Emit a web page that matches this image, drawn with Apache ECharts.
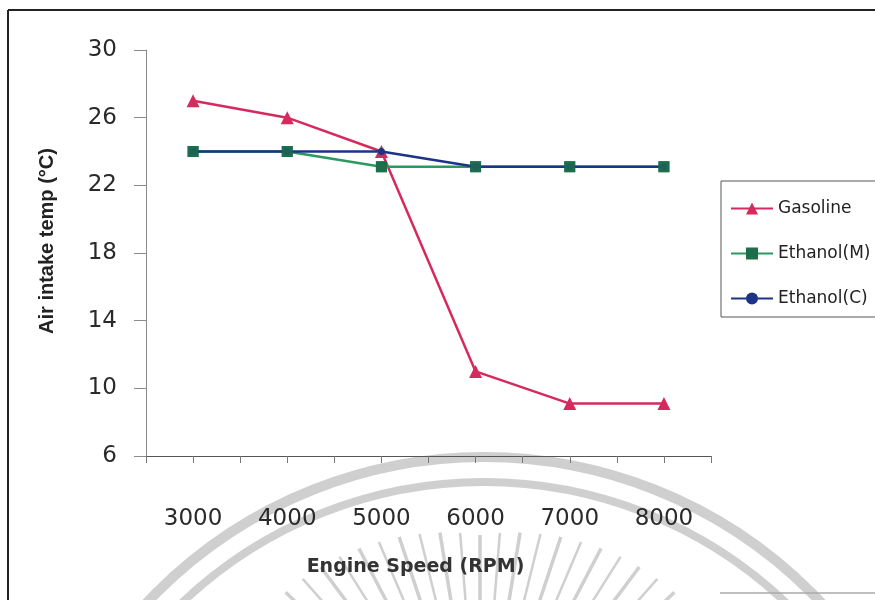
<!DOCTYPE html>
<html>
<head>
<meta charset="utf-8">
<script src="https://cdn.jsdelivr.net/npm/echarts@6/dist/echarts.min.js"></script>
<style>
  html, body { margin: 0; padding: 0; background: #ffffff; }
  #main { width: 875px; height: 600px; }
</style>
</head>
<body>
<div id="main"></div>
<script>
// Engine speed (RPM) and measured air intake temperature (°C)
const speeds = [3000, 4000, 5000, 6000, 7000, 8000];
const gasoline = [27, 26, 24, 11, 9.1, 9.1];
const ethanolM = [24, 24, 23.1, 23.1, 23.1, 23.1];
const ethanolC = [24, 24, 24, 23.1, 23.1, 23.1];
const speedLabels = [3000, 4000, 5000, 6000, 7000, 8000];

const RED = '#d62a5e';
const GREEN = '#2a9a5c';
const GREEN_MARK = '#1d6e4c';
const NAVY = '#1c3388';

const pairs = (ys) => speeds.map((s, i) => [s, ys[i]]);

// faint emblem behind the lower part of the page
const emblem = [];
const ringColor = 'rgba(160,160,160,0.5)';
emblem.push({ type: 'circle', z: 0, silent: true,
  shape: { cx: 484, cy: 920, r: 463 },
  style: { fill: 'none', stroke: ringColor, lineWidth: 10 } });
emblem.push({ type: 'circle', z: 0, silent: true,
  shape: { cx: 484, cy: 920, r: 438 },
  style: { fill: 'none', stroke: ringColor, lineWidth: 8 } });
const rayCx = 480, rayCy = 780;
for (let k = 0; k <= 20; k++) {
  const a = (-136 + k * 4.6) * Math.PI / 180;
  const R = 245 + 35 * Math.abs(Math.cos(a));
  const r0 = 120;
  emblem.push({ type: 'line', z: 0, silent: true,
    shape: { x1: rayCx + r0 * Math.cos(a), y1: rayCy + r0 * Math.sin(a),
             x2: rayCx + R * Math.cos(a), y2: rayCy + R * Math.sin(a) },
    style: { stroke: ringColor, lineWidth: k % 2 ? 2.5 : 3.5 } });
}

// outer frame
const frame = [
  { type: 'line', z: 100, shape: { x1: 8, y1: 10, x2: 875, y2: 10 }, style: { stroke: '#222', lineWidth: 2 } },
  { type: 'line', z: 100, shape: { x1: 8, y1: 10, x2: 8, y2: 600 }, style: { stroke: '#222', lineWidth: 2 } },
  { type: 'line', z: 100, shape: { x1: 720, y1: 593, x2: 875, y2: 593 }, style: { stroke: '#aaa', lineWidth: 1.5 } }
];

const chart = echarts.init(document.getElementById('main'), null, { renderer: 'canvas' });
chart.setOption({
  animation: false,
  backgroundColor: '#ffffff',
  graphic: { elements: emblem.concat(frame) },
  grid: { left: 146, right: 164, top: 50, bottom: 144 },
  legend: {
    orient: 'vertical', left: 721, top: 181,
    padding: [19, 12, 10, 9], itemGap: 28,
    itemWidth: 42, itemHeight: 15,
    borderColor: '#555', borderWidth: 1,
    textStyle: { fontFamily: 'DejaVu Sans', fontSize: 17, color: '#222' },
    data: ['Gasoline', 'Ethanol(M)', 'Ethanol(C)']
  },
  xAxis: {
    type: 'value', min: 2500, max: 8500, interval: 500,
    axisLine: { lineStyle: { color: '#555', width: 1.2 } },
    axisTick: { length: 7, lineStyle: { color: '#777' } },
    splitLine: { show: false },
    axisLabel: {
      margin: 52, fontFamily: 'DejaVu Sans', fontSize: 23, color: '#2a2a2a',
      formatter: (v) => speedLabels.includes(v) ? String(v) : ''
    },
    name: 'Engine Speed (RPM)', nameLocation: 'middle', nameGap: 102,
    nameTextStyle: { fontFamily: 'DejaVu Sans', fontWeight: 'bold', fontSize: 19, color: '#333', padding: [0, 26, 0, 0] }
  },
  yAxis: {
    type: 'value', min: 6, max: 30, interval: 4,
    axisLine: { show: true, lineStyle: { color: '#8a8a8a' } },
    axisTick: { show: true, length: 12, lineStyle: { color: '#8a8a8a' } },
    splitLine: { show: false },
    axisLabel: { margin: 29, fontFamily: 'DejaVu Sans', fontSize: 23, color: '#2a2a2a' },
    name: 'Air intake temp (°C)', nameLocation: 'middle', nameGap: 89,
    nameTextStyle: { fontFamily: 'Liberation Sans', fontWeight: 'bold', fontSize: 20, color: '#222', padding: [0, 0, 0, 24] }
  },
  series: [
    { name: 'Gasoline', type: 'line', data: pairs(gasoline), z: 2,
      symbol: 'triangle', symbolSize: 13,
      lineStyle: { color: RED, width: 2.5 }, itemStyle: { color: RED } },
    { name: 'Ethanol(M)', type: 'line', data: pairs(ethanolM), z: 3,
      symbol: 'rect', symbolSize: 11,
      lineStyle: { color: GREEN, width: 2.5 }, itemStyle: { color: GREEN_MARK } },
    { name: 'Ethanol(C)', type: 'line', data: pairs(ethanolC), z: 4,
      symbol: 'circle', symbolSize: 7,
      lineStyle: { color: NAVY, width: 2.5 }, itemStyle: { color: NAVY } },
    // square markers for Ethanol(M) kept above the navy line
    { name: 'Ethanol(M)', type: 'scatter', data: pairs(ethanolM), z: 5,
      symbol: 'rect', symbolSize: 11, itemStyle: { color: GREEN_MARK } }
  ]
});
</script>
</body>
</html>
